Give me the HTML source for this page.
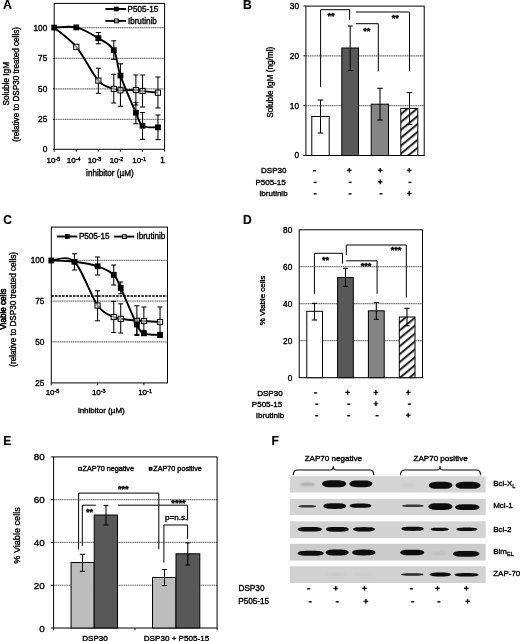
<!DOCTYPE html>
<html><head><meta charset="utf-8"><title>Figure</title>
<style>html,body{margin:0;padding:0;background:#fff;}svg{display:block;filter:grayscale(1);}text{font-family:"Liberation Sans",sans-serif;stroke:#000;stroke-width:0.36px;stroke-linejoin:round;}</style>
</head><body>
<svg width="520" height="641" viewBox="0 0 520 641" font-family="Liberation Sans, sans-serif">
<defs>
<pattern id="hatch" width="6.1" height="6.1" patternUnits="userSpaceOnUse" patternTransform="translate(400.8,108.4) rotate(-39.6)"><rect width="6.1" height="6.1" fill="#fff"/><rect y="3.4" width="6.1" height="2.1" fill="#262626"/></pattern>
<pattern id="hatch2" width="6.1" height="6.1" patternUnits="userSpaceOnUse" patternTransform="translate(399.3,317) rotate(-39.6)"><rect width="6.1" height="6.1" fill="#fff"/><rect y="3.4" width="6.1" height="2.1" fill="#262626"/></pattern>
<filter id="blur1" x="-10%" y="-50%" width="120%" height="200%"><feGaussianBlur stdDeviation="0.65 0.5"/></filter>
<filter id="blur2" x="-10%" y="-80%" width="120%" height="260%"><feGaussianBlur stdDeviation="1.2 0.8"/></filter>
</defs>
<rect width="520" height="641" fill="#fff"/>
<text x="3.1" y="8.5" font-size="12.3" text-anchor="start" font-weight="bold" fill="#000" style="stroke-width:0.15px">A</text>
<text x="243.1" y="8.5" font-size="12" text-anchor="start" font-weight="bold" fill="#000" style="stroke-width:0.15px">B</text>
<text x="3.3" y="223.6" font-size="12" text-anchor="start" font-weight="bold" fill="#000" style="stroke-width:0.15px">C</text>
<text x="243.1" y="223.5" font-size="12" text-anchor="start" font-weight="bold" fill="#000" style="stroke-width:0.15px">D</text>
<text x="3.2" y="444.8" font-size="12" text-anchor="start" font-weight="bold" fill="#000" style="stroke-width:0.15px">E</text>
<text x="271.4" y="444.8" font-size="12" text-anchor="start" font-weight="bold" fill="#000" style="stroke-width:0.15px">F</text>
<line x1="54.2" y1="119.4" x2="164.6" y2="119.4" stroke="#b4b4b4" stroke-width="1.2" />
<line x1="54.2" y1="119.4" x2="164.6" y2="119.4" stroke="#5a5a5a" stroke-width="1.0" stroke-dasharray="0.7,1.5"/>
<line x1="54.2" y1="88.8" x2="164.6" y2="88.8" stroke="#b4b4b4" stroke-width="1.2" />
<line x1="54.2" y1="88.8" x2="164.6" y2="88.8" stroke="#5a5a5a" stroke-width="1.0" stroke-dasharray="0.7,1.5"/>
<line x1="54.2" y1="58.4" x2="164.6" y2="58.4" stroke="#b4b4b4" stroke-width="1.2" />
<line x1="54.2" y1="58.4" x2="164.6" y2="58.4" stroke="#5a5a5a" stroke-width="1.0" stroke-dasharray="0.7,1.5"/>
<line x1="54.2" y1="27.7" x2="164.6" y2="27.7" stroke="#b4b4b4" stroke-width="1.2" />
<line x1="54.2" y1="27.7" x2="164.6" y2="27.7" stroke="#5a5a5a" stroke-width="1.0" stroke-dasharray="0.7,1.5"/>
<rect x="54.2" y="3.4" width="110.39999999999999" height="145.9" fill="none" stroke="#000" stroke-width="1" />
<line x1="53.0" y1="149.3" x2="54.2" y2="149.3" stroke="#000" stroke-width="0.9" />
<text x="47.3" y="152.3" font-size="8.25" text-anchor="end" font-weight="normal" fill="#000" >0</text>
<line x1="53.0" y1="119.4" x2="54.2" y2="119.4" stroke="#000" stroke-width="0.9" />
<text x="47.3" y="122.4" font-size="8.25" text-anchor="end" font-weight="normal" fill="#000" >25</text>
<line x1="53.0" y1="88.8" x2="54.2" y2="88.8" stroke="#000" stroke-width="0.9" />
<text x="47.3" y="91.8" font-size="8.25" text-anchor="end" font-weight="normal" fill="#000" >50</text>
<line x1="53.0" y1="58.4" x2="54.2" y2="58.4" stroke="#000" stroke-width="0.9" />
<text x="47.3" y="61.4" font-size="8.25" text-anchor="end" font-weight="normal" fill="#000" >75</text>
<line x1="53.0" y1="27.7" x2="54.2" y2="27.7" stroke="#000" stroke-width="0.9" />
<text x="47.3" y="30.7" font-size="8.25" text-anchor="end" font-weight="normal" fill="#000" >100</text>
<line x1="54.2" y1="149.3" x2="54.2" y2="151.8" stroke="#000" stroke-width="0.9" />
<line x1="76.28" y1="149.3" x2="76.28" y2="151.8" stroke="#000" stroke-width="0.9" />
<line x1="98.36" y1="149.3" x2="98.36" y2="151.8" stroke="#000" stroke-width="0.9" />
<line x1="120.44" y1="149.3" x2="120.44" y2="151.8" stroke="#000" stroke-width="0.9" />
<line x1="142.51999999999998" y1="149.3" x2="142.51999999999998" y2="151.8" stroke="#000" stroke-width="0.9" />
<line x1="164.6" y1="149.3" x2="164.6" y2="151.8" stroke="#000" stroke-width="0.9" />
<text x="53.4" y="163" font-size="8" text-anchor="middle">10<tspan font-size="5.44" dy="-2.3">-5</tspan></text>
<text x="73.6" y="163" font-size="8" text-anchor="middle">10<tspan font-size="5.44" dy="-2.3">-4</tspan></text>
<text x="94.5" y="163" font-size="8" text-anchor="middle">10<tspan font-size="5.44" dy="-2.3">-3</tspan></text>
<text x="116.5" y="163" font-size="8" text-anchor="middle">10<tspan font-size="5.44" dy="-2.3">-2</tspan></text>
<text x="139.2" y="163" font-size="8" text-anchor="middle">10<tspan font-size="5.44" dy="-2.3">-1</tspan></text>
<text x="162.6" y="163" font-size="8.2" text-anchor="middle" font-weight="normal" fill="#000" >1</text>
<text x="109.9" y="175.7" font-size="8.15" text-anchor="middle" font-weight="normal" fill="#000" >inhibitor (µM)</text>
<text transform="translate(8.6,83.7) rotate(-90)" font-size="8.25" text-anchor="middle" font-weight="normal" >Soluble IgM</text>
<text transform="translate(18.7,84.4) rotate(-90)" font-size="8.15" text-anchor="middle" font-weight="normal" >(relative to DSP30 treated cells)</text>
<line x1="98.36" y1="68.2" x2="98.36" y2="93.3" stroke="#000" stroke-width="1.05" />
<line x1="95.86" y1="68.2" x2="100.86" y2="68.2" stroke="#000" stroke-width="1.05" />
<line x1="95.86" y1="93.3" x2="100.86" y2="93.3" stroke="#000" stroke-width="1.05" />
<line x1="113.7932576957393" y1="74.3" x2="113.7932576957393" y2="103" stroke="#000" stroke-width="1.05" />
<line x1="111.2932576957393" y1="74.3" x2="116.2932576957393" y2="74.3" stroke="#000" stroke-width="1.05" />
<line x1="111.2932576957393" y1="103" x2="116.2932576957393" y2="103" stroke="#000" stroke-width="1.05" />
<line x1="120.44" y1="74.3" x2="120.44" y2="106.3" stroke="#000" stroke-width="1.05" />
<line x1="117.94" y1="74.3" x2="122.94" y2="74.3" stroke="#000" stroke-width="1.05" />
<line x1="117.94" y1="106.3" x2="122.94" y2="106.3" stroke="#000" stroke-width="1.05" />
<line x1="135.87325769573928" y1="75" x2="135.87325769573928" y2="105" stroke="#000" stroke-width="1.05" />
<line x1="133.37325769573928" y1="75" x2="138.37325769573928" y2="75" stroke="#000" stroke-width="1.05" />
<line x1="133.37325769573928" y1="105" x2="138.37325769573928" y2="105" stroke="#000" stroke-width="1.05" />
<line x1="142.51999999999998" y1="75" x2="142.51999999999998" y2="107" stroke="#000" stroke-width="1.05" />
<line x1="140.01999999999998" y1="75" x2="145.01999999999998" y2="75" stroke="#000" stroke-width="1.05" />
<line x1="140.01999999999998" y1="107" x2="145.01999999999998" y2="107" stroke="#000" stroke-width="1.05" />
<line x1="157.9532576957393" y1="77" x2="157.9532576957393" y2="108" stroke="#000" stroke-width="1.05" />
<line x1="155.4532576957393" y1="77" x2="160.4532576957393" y2="77" stroke="#000" stroke-width="1.05" />
<line x1="155.4532576957393" y1="108" x2="160.4532576957393" y2="108" stroke="#000" stroke-width="1.05" />
<line x1="98.36" y1="32.5" x2="98.36" y2="43.8" stroke="#000" stroke-width="1.05" />
<line x1="95.86" y1="32.5" x2="100.86" y2="32.5" stroke="#000" stroke-width="1.05" />
<line x1="95.86" y1="43.8" x2="100.86" y2="43.8" stroke="#000" stroke-width="1.05" />
<line x1="113.7932576957393" y1="40.8" x2="113.7932576957393" y2="59.4" stroke="#000" stroke-width="1.05" />
<line x1="111.2932576957393" y1="40.8" x2="116.2932576957393" y2="40.8" stroke="#000" stroke-width="1.05" />
<line x1="111.2932576957393" y1="59.4" x2="116.2932576957393" y2="59.4" stroke="#000" stroke-width="1.05" />
<line x1="120.44" y1="63.8" x2="120.44" y2="87.2" stroke="#000" stroke-width="1.05" />
<line x1="117.94" y1="63.8" x2="122.94" y2="63.8" stroke="#000" stroke-width="1.05" />
<line x1="117.94" y1="87.2" x2="122.94" y2="87.2" stroke="#000" stroke-width="1.05" />
<line x1="135.87325769573928" y1="102.5" x2="135.87325769573928" y2="123.8" stroke="#000" stroke-width="1.05" />
<line x1="133.37325769573928" y1="102.5" x2="138.37325769573928" y2="102.5" stroke="#000" stroke-width="1.05" />
<line x1="133.37325769573928" y1="123.8" x2="138.37325769573928" y2="123.8" stroke="#000" stroke-width="1.05" />
<line x1="142.51999999999998" y1="112.5" x2="142.51999999999998" y2="139.3" stroke="#000" stroke-width="1.05" />
<line x1="140.01999999999998" y1="112.5" x2="145.01999999999998" y2="112.5" stroke="#000" stroke-width="1.05" />
<line x1="140.01999999999998" y1="139.3" x2="145.01999999999998" y2="139.3" stroke="#000" stroke-width="1.05" />
<line x1="157.9532576957393" y1="115" x2="157.9532576957393" y2="139.6" stroke="#000" stroke-width="1.05" />
<line x1="155.4532576957393" y1="115" x2="160.4532576957393" y2="115" stroke="#000" stroke-width="1.05" />
<line x1="155.4532576957393" y1="139.6" x2="160.4532576957393" y2="139.6" stroke="#000" stroke-width="1.05" />
<path d="M54.20,27.60 C57.88,30.80 68.92,37.97 76.28,46.80 C83.64,55.63 92.11,73.58 98.36,80.60 C104.61,87.62 110.11,87.28 113.79,88.90 C117.47,90.52 116.76,90.12 120.44,90.30 C124.12,90.48 132.19,89.88 135.87,90.00 C139.55,90.12 138.84,90.55 142.52,91.00 C146.20,91.45 155.38,92.42 157.95,92.70" fill="none" stroke="#000" stroke-width="1.9"/>
<path d="M54.20,27.60 C57.88,27.57 68.92,25.63 76.28,27.40 C83.64,29.17 92.11,34.40 98.36,38.20 C104.61,42.00 110.11,43.97 113.79,50.20 C117.47,56.43 116.76,65.18 120.44,75.60 C124.12,86.02 132.19,104.35 135.87,112.70 C139.55,121.05 138.84,123.25 142.52,125.70 C146.20,128.15 155.38,127.12 157.95,127.40" fill="none" stroke="#000" stroke-width="1.9"/>
<rect x="73.68" y="44.199999999999996" width="5.2" height="5.2" fill="#fff" fill-opacity="0.55" stroke="#000" stroke-width="1"/>
<rect x="95.76" y="78.0" width="5.2" height="5.2" fill="#fff" fill-opacity="0.55" stroke="#000" stroke-width="1"/>
<rect x="111.1932576957393" y="86.30000000000001" width="5.2" height="5.2" fill="#fff" fill-opacity="0.55" stroke="#000" stroke-width="1"/>
<rect x="117.84" y="87.7" width="5.2" height="5.2" fill="#fff" fill-opacity="0.55" stroke="#000" stroke-width="1"/>
<rect x="133.2732576957393" y="87.4" width="5.2" height="5.2" fill="#fff" fill-opacity="0.55" stroke="#000" stroke-width="1"/>
<rect x="139.92" y="88.4" width="5.2" height="5.2" fill="#fff" fill-opacity="0.55" stroke="#000" stroke-width="1"/>
<rect x="155.3532576957393" y="90.10000000000001" width="5.2" height="5.2" fill="#fff" fill-opacity="0.55" stroke="#000" stroke-width="1"/>
<rect x="51.300000000000004" y="24.700000000000003" width="5.8" height="5.8" fill="#000"/>
<rect x="73.38" y="24.5" width="5.8" height="5.8" fill="#000"/>
<rect x="95.46" y="35.300000000000004" width="5.8" height="5.8" fill="#000"/>
<rect x="110.8932576957393" y="47.300000000000004" width="5.8" height="5.8" fill="#000"/>
<rect x="117.53999999999999" y="72.69999999999999" width="5.8" height="5.8" fill="#000"/>
<rect x="132.97325769573928" y="109.8" width="5.8" height="5.8" fill="#000"/>
<rect x="139.61999999999998" y="122.8" width="5.8" height="5.8" fill="#000"/>
<rect x="155.0532576957393" y="124.5" width="5.8" height="5.8" fill="#000"/>
<line x1="105.4" y1="9.0" x2="126.2" y2="9.0" stroke="#000" stroke-width="1.9" />
<rect x="114.10000000000001" y="6.7" width="4.6" height="4.6" fill="#000"/>
<text x="127.6" y="11.5" font-size="8.15" text-anchor="start" font-weight="normal" fill="#000" >P505-15</text>
<line x1="105.4" y1="20.9" x2="126.2" y2="20.9" stroke="#000" stroke-width="1.9" />
<rect x="114.5" y="19.0" width="3.8" height="3.8" fill="#fff" fill-opacity="0.55" stroke="#000" stroke-width="1"/>
<text x="127.9" y="23.5" font-size="8.15" text-anchor="start" font-weight="normal" fill="#000" >Ibrutinib</text>
<line x1="305.9" y1="105.66666666666666" x2="424.2" y2="105.66666666666666" stroke="#b4b4b4" stroke-width="1.2" />
<line x1="305.9" y1="105.66666666666666" x2="424.2" y2="105.66666666666666" stroke="#5a5a5a" stroke-width="1.0" stroke-dasharray="0.7,1.5"/>
<line x1="305.9" y1="55.83333333333333" x2="424.2" y2="55.83333333333333" stroke="#b4b4b4" stroke-width="1.2" />
<line x1="305.9" y1="55.83333333333333" x2="424.2" y2="55.83333333333333" stroke="#5a5a5a" stroke-width="1.0" stroke-dasharray="0.7,1.5"/>
<rect x="305.9" y="6.1" width="118.30000000000001" height="149.4" fill="none" stroke="#000" stroke-width="1" />
<line x1="303.29999999999995" y1="155.5" x2="305.9" y2="155.5" stroke="#000" stroke-width="0.9" />
<text x="299.0" y="158.45" font-size="8.3" text-anchor="end" font-weight="normal" fill="#000" >0</text>
<line x1="303.29999999999995" y1="105.66666666666666" x2="305.9" y2="105.66666666666666" stroke="#000" stroke-width="0.9" />
<text x="299.0" y="108.61666666666666" font-size="8.3" text-anchor="end" font-weight="normal" fill="#000" >10</text>
<line x1="303.29999999999995" y1="55.83333333333333" x2="305.9" y2="55.83333333333333" stroke="#000" stroke-width="0.9" />
<text x="299.0" y="58.78333333333333" font-size="8.3" text-anchor="end" font-weight="normal" fill="#000" >20</text>
<line x1="303.29999999999995" y1="6.0" x2="305.9" y2="6.0" stroke="#000" stroke-width="0.9" />
<text x="299.0" y="8.95" font-size="8.3" text-anchor="end" font-weight="normal" fill="#000" >30</text>
<text transform="translate(273.1,82.3) rotate(-90)" font-size="8.2" text-anchor="middle" font-weight="normal" >Soluble IgM (ng/ml)</text>
<rect x="311.8" y="116.5" width="17.4" height="39.0" fill="#fff" stroke="#000" stroke-width="1" />
<rect x="341.8" y="48" width="16.7" height="107.5" fill="#585858" stroke="#000" stroke-width="1" />
<rect x="371.2" y="104.2" width="17.3" height="51.3" fill="#858585" stroke="#000" stroke-width="1" />
<rect x="400.8" y="108.4" width="17.0" height="47.099999999999994" fill="url(#hatch)" stroke="#000" stroke-width="1" />
<line x1="320.5" y1="100" x2="320.5" y2="133" stroke="#000" stroke-width="1.05" />
<line x1="317.7" y1="100" x2="323.3" y2="100" stroke="#000" stroke-width="1.05" />
<line x1="317.7" y1="133" x2="323.3" y2="133" stroke="#000" stroke-width="1.05" />
<line x1="350.2" y1="26" x2="350.2" y2="70.5" stroke="#000" stroke-width="1.05" />
<line x1="347.8" y1="26" x2="352.59999999999997" y2="26" stroke="#000" stroke-width="1.05" />
<line x1="347.8" y1="70.5" x2="352.59999999999997" y2="70.5" stroke="#000" stroke-width="1.05" />
<line x1="380" y1="88.3" x2="380" y2="120" stroke="#000" stroke-width="1.05" />
<line x1="377.2" y1="88.3" x2="382.8" y2="88.3" stroke="#000" stroke-width="1.05" />
<line x1="377.2" y1="120" x2="382.8" y2="120" stroke="#000" stroke-width="1.05" />
<line x1="409.5" y1="92.5" x2="409.5" y2="124.5" stroke="#000" stroke-width="1.05" />
<line x1="406.7" y1="92.5" x2="412.3" y2="92.5" stroke="#000" stroke-width="1.05" />
<line x1="406.7" y1="124.5" x2="412.3" y2="124.5" stroke="#000" stroke-width="1.05" />
<path d="M320.6,86.8 L320.6,9.7 L349.6,9.7 L349.6,19.8" fill="none" stroke="#000" stroke-width="1"/>
<path d="M356,12.0 L356,12.0 L409.5,12.0 L409.5,71.5" fill="none" stroke="#000" stroke-width="1"/>
<path d="M356,23.7 L356,23.7 L378.3,23.7 L378.3,71.5" fill="none" stroke="#000" stroke-width="1"/>
<text x="331" y="18.9" font-size="9.2" text-anchor="middle" font-weight="bold" fill="#000" >**</text>
<text x="366.8" y="33.6" font-size="9.2" text-anchor="middle" font-weight="bold" fill="#000" >**</text>
<text x="395.3" y="21.4" font-size="9.2" text-anchor="middle" font-weight="bold" fill="#000" >**</text>
<text x="286.4" y="173.3" font-size="8" text-anchor="end" font-weight="normal" fill="#000" >DSP30</text>
<text x="285.7" y="184.6" font-size="8" text-anchor="end" font-weight="normal" fill="#000" >P505-15</text>
<text x="287.6" y="196.3" font-size="8" text-anchor="end" font-weight="normal" fill="#000" >Ibrutinib</text>
<line x1="312.8" y1="170.8" x2="315.8" y2="170.8" stroke="#000" stroke-width="1.4" />
<line x1="347.0" y1="170.3" x2="351.6" y2="170.3" stroke="#000" stroke-width="1.3" />
<line x1="349.3" y1="168.0" x2="349.3" y2="172.60000000000002" stroke="#000" stroke-width="1.3" />
<line x1="377.9" y1="170.3" x2="382.5" y2="170.3" stroke="#000" stroke-width="1.3" />
<line x1="380.2" y1="168.0" x2="380.2" y2="172.60000000000002" stroke="#000" stroke-width="1.3" />
<line x1="406.9" y1="170.3" x2="411.5" y2="170.3" stroke="#000" stroke-width="1.3" />
<line x1="409.2" y1="168.0" x2="409.2" y2="172.60000000000002" stroke="#000" stroke-width="1.3" />
<line x1="313.6" y1="182.4" x2="316.6" y2="182.4" stroke="#000" stroke-width="1.4" />
<line x1="348.6" y1="182.4" x2="351.6" y2="182.4" stroke="#000" stroke-width="1.4" />
<line x1="377.9" y1="181.9" x2="382.5" y2="181.9" stroke="#000" stroke-width="1.3" />
<line x1="380.2" y1="179.6" x2="380.2" y2="184.20000000000002" stroke="#000" stroke-width="1.3" />
<line x1="408.5" y1="182.4" x2="411.5" y2="182.4" stroke="#000" stroke-width="1.4" />
<line x1="313.6" y1="193.9" x2="316.6" y2="193.9" stroke="#000" stroke-width="1.4" />
<line x1="348.6" y1="193.9" x2="351.6" y2="193.9" stroke="#000" stroke-width="1.4" />
<line x1="379.5" y1="193.9" x2="382.5" y2="193.9" stroke="#000" stroke-width="1.4" />
<line x1="406.9" y1="193.4" x2="411.5" y2="193.4" stroke="#000" stroke-width="1.3" />
<line x1="409.2" y1="191.1" x2="409.2" y2="195.70000000000002" stroke="#000" stroke-width="1.3" />
<line x1="51.3" y1="341.8" x2="167.5" y2="341.8" stroke="#b4b4b4" stroke-width="1.2" />
<line x1="51.3" y1="341.8" x2="167.5" y2="341.8" stroke="#5a5a5a" stroke-width="1.0" stroke-dasharray="0.7,1.5"/>
<line x1="51.3" y1="301.2" x2="167.5" y2="301.2" stroke="#b4b4b4" stroke-width="1.2" />
<line x1="51.3" y1="301.2" x2="167.5" y2="301.2" stroke="#5a5a5a" stroke-width="1.0" stroke-dasharray="0.7,1.5"/>
<line x1="51.3" y1="260.4" x2="167.5" y2="260.4" stroke="#b4b4b4" stroke-width="1.2" />
<line x1="51.3" y1="260.4" x2="167.5" y2="260.4" stroke="#5a5a5a" stroke-width="1.0" stroke-dasharray="0.7,1.5"/>
<line x1="51.3" y1="296.0" x2="167.5" y2="296.0" stroke="#000" stroke-width="1.4" stroke-dasharray="2.6,1.0"/>
<rect x="51.3" y="227.1" width="116.2" height="155.79999999999998" fill="none" stroke="#000" stroke-width="1" />
<text x="44.4" y="385.84999999999997" font-size="8.25" text-anchor="end" font-weight="normal" fill="#000" >25</text>
<text x="44.4" y="344.75" font-size="8.25" text-anchor="end" font-weight="normal" fill="#000" >50</text>
<text x="44.4" y="304.15" font-size="8.25" text-anchor="end" font-weight="normal" fill="#000" >75</text>
<text x="44.4" y="263.34999999999997" font-size="8.25" text-anchor="end" font-weight="normal" fill="#000" >100</text>
<line x1="51.3" y1="382.9" x2="51.3" y2="385.4" stroke="#000" stroke-width="0.9" />
<text x="52.5" y="395.2" font-size="8" text-anchor="middle">10<tspan font-size="5.44" dy="-2.3">-5</tspan></text>
<line x1="97.58" y1="382.9" x2="97.58" y2="385.4" stroke="#000" stroke-width="0.9" />
<text x="98.78" y="395.2" font-size="8" text-anchor="middle">10<tspan font-size="5.44" dy="-2.3">-3</tspan></text>
<line x1="143.86" y1="382.9" x2="143.86" y2="385.4" stroke="#000" stroke-width="0.9" />
<text x="145.06" y="395.2" font-size="8" text-anchor="middle">10<tspan font-size="5.44" dy="-2.3">-1</tspan></text>
<text x="101.3" y="412.6" font-size="8" text-anchor="middle" font-weight="normal" fill="#000" >inhibitor (µM)</text>
<text transform="translate(6.3,309.2) rotate(-90)" font-size="8.15" text-anchor="middle" font-weight="normal" style="stroke-width:0.62px">Viable cells</text>
<text transform="translate(16.1,309.4) rotate(-90)" font-size="8.15" text-anchor="middle" font-weight="normal" >(relative to DSP30 treated cells)</text>
<line x1="97.58" y1="290.8" x2="97.58" y2="320.8" stroke="#000" stroke-width="1.05" />
<line x1="95.08" y1="290.8" x2="100.08" y2="290.8" stroke="#000" stroke-width="1.05" />
<line x1="95.08" y1="320.8" x2="100.08" y2="320.8" stroke="#000" stroke-width="1.05" />
<line x1="113.75416590033547" y1="301.3" x2="113.75416590033547" y2="332.5" stroke="#000" stroke-width="1.05" />
<line x1="111.25416590033547" y1="301.3" x2="116.25416590033547" y2="301.3" stroke="#000" stroke-width="1.05" />
<line x1="111.25416590033547" y1="332.5" x2="116.25416590033547" y2="332.5" stroke="#000" stroke-width="1.05" />
<line x1="120.72" y1="303.8" x2="120.72" y2="333" stroke="#000" stroke-width="1.05" />
<line x1="118.22" y1="303.8" x2="123.22" y2="303.8" stroke="#000" stroke-width="1.05" />
<line x1="118.22" y1="333" x2="123.22" y2="333" stroke="#000" stroke-width="1.05" />
<line x1="136.89416590033548" y1="305.8" x2="136.89416590033548" y2="334.5" stroke="#000" stroke-width="1.05" />
<line x1="134.39416590033548" y1="305.8" x2="139.39416590033548" y2="305.8" stroke="#000" stroke-width="1.05" />
<line x1="134.39416590033548" y1="334.5" x2="139.39416590033548" y2="334.5" stroke="#000" stroke-width="1.05" />
<line x1="143.86" y1="307" x2="143.86" y2="335" stroke="#000" stroke-width="1.05" />
<line x1="141.36" y1="307" x2="146.36" y2="307" stroke="#000" stroke-width="1.05" />
<line x1="141.36" y1="335" x2="146.36" y2="335" stroke="#000" stroke-width="1.05" />
<line x1="160.0341659003355" y1="307" x2="160.0341659003355" y2="337" stroke="#000" stroke-width="1.05" />
<line x1="157.5341659003355" y1="307" x2="162.5341659003355" y2="307" stroke="#000" stroke-width="1.05" />
<line x1="157.5341659003355" y1="337" x2="162.5341659003355" y2="337" stroke="#000" stroke-width="1.05" />
<line x1="74.44" y1="253.8" x2="74.44" y2="270" stroke="#000" stroke-width="1.05" />
<line x1="71.94" y1="253.8" x2="76.94" y2="253.8" stroke="#000" stroke-width="1.05" />
<line x1="71.94" y1="270" x2="76.94" y2="270" stroke="#000" stroke-width="1.05" />
<line x1="97.58" y1="257" x2="97.58" y2="275" stroke="#000" stroke-width="1.05" />
<line x1="95.08" y1="257" x2="100.08" y2="257" stroke="#000" stroke-width="1.05" />
<line x1="95.08" y1="275" x2="100.08" y2="275" stroke="#000" stroke-width="1.05" />
<line x1="113.75416590033547" y1="265" x2="113.75416590033547" y2="285" stroke="#000" stroke-width="1.05" />
<line x1="111.25416590033547" y1="265" x2="116.25416590033547" y2="265" stroke="#000" stroke-width="1.05" />
<line x1="111.25416590033547" y1="285" x2="116.25416590033547" y2="285" stroke="#000" stroke-width="1.05" />
<line x1="120.72" y1="282" x2="120.72" y2="293.8" stroke="#000" stroke-width="1.05" />
<line x1="118.22" y1="282" x2="123.22" y2="282" stroke="#000" stroke-width="1.05" />
<line x1="118.22" y1="293.8" x2="123.22" y2="293.8" stroke="#000" stroke-width="1.05" />
<line x1="136.89416590033548" y1="318.8" x2="136.89416590033548" y2="335.5" stroke="#000" stroke-width="1.05" />
<line x1="134.39416590033548" y1="318.8" x2="139.39416590033548" y2="318.8" stroke="#000" stroke-width="1.05" />
<line x1="134.39416590033548" y1="335.5" x2="139.39416590033548" y2="335.5" stroke="#000" stroke-width="1.05" />
<line x1="143.86" y1="330.5" x2="143.86" y2="335.5" stroke="#000" stroke-width="1.05" />
<line x1="141.36" y1="330.5" x2="146.36" y2="330.5" stroke="#000" stroke-width="1.05" />
<line x1="141.36" y1="335.5" x2="146.36" y2="335.5" stroke="#000" stroke-width="1.05" />
<line x1="160.0341659003355" y1="332.5" x2="160.0341659003355" y2="337.5" stroke="#000" stroke-width="1.05" />
<line x1="157.5341659003355" y1="332.5" x2="162.5341659003355" y2="332.5" stroke="#000" stroke-width="1.05" />
<line x1="157.5341659003355" y1="337.5" x2="162.5341659003355" y2="337.5" stroke="#000" stroke-width="1.05" />
<path d="M51.30,260.50 C55.16,260.72 66.73,254.30 74.44,261.80 C82.15,269.30 91.03,296.30 97.58,305.50 C104.13,314.70 109.90,314.78 113.75,317.00 C117.61,319.22 116.86,318.17 120.72,318.80 C124.58,319.43 133.04,320.43 136.89,320.80 C140.75,321.17 140.00,320.80 143.86,321.00 C147.72,321.20 157.34,321.83 160.03,322.00" fill="none" stroke="#000" stroke-width="1.9"/>
<path d="M51.30,260.50 C55.16,260.72 66.73,260.83 74.44,261.80 C82.15,262.77 91.03,264.13 97.58,266.30 C104.13,268.47 109.90,271.18 113.75,274.80 C117.61,278.42 116.86,279.72 120.72,288.00 C124.58,296.28 133.04,316.95 136.89,324.50 C140.75,332.05 140.00,331.55 143.86,333.30 C147.72,335.05 157.34,334.72 160.03,335.00" fill="none" stroke="#000" stroke-width="1.9"/>
<rect x="94.98" y="302.9" width="5.2" height="5.2" fill="#fff" fill-opacity="0.55" stroke="#000" stroke-width="1"/>
<rect x="111.15416590033547" y="314.4" width="5.2" height="5.2" fill="#fff" fill-opacity="0.55" stroke="#000" stroke-width="1"/>
<rect x="118.12" y="316.2" width="5.2" height="5.2" fill="#fff" fill-opacity="0.55" stroke="#000" stroke-width="1"/>
<rect x="134.29416590033549" y="318.2" width="5.2" height="5.2" fill="#fff" fill-opacity="0.55" stroke="#000" stroke-width="1"/>
<rect x="141.26000000000002" y="318.4" width="5.2" height="5.2" fill="#fff" fill-opacity="0.55" stroke="#000" stroke-width="1"/>
<rect x="157.4341659003355" y="319.4" width="5.2" height="5.2" fill="#fff" fill-opacity="0.55" stroke="#000" stroke-width="1"/>
<rect x="48.4" y="257.6" width="5.8" height="5.8" fill="#000"/>
<rect x="71.53999999999999" y="258.90000000000003" width="5.8" height="5.8" fill="#000"/>
<rect x="94.67999999999999" y="263.40000000000003" width="5.8" height="5.8" fill="#000"/>
<rect x="110.85416590033546" y="271.90000000000003" width="5.8" height="5.8" fill="#000"/>
<rect x="117.82" y="285.1" width="5.8" height="5.8" fill="#000"/>
<rect x="133.99416590033547" y="321.6" width="5.8" height="5.8" fill="#000"/>
<rect x="140.96" y="330.40000000000003" width="5.8" height="5.8" fill="#000"/>
<rect x="157.1341659003355" y="332.1" width="5.8" height="5.8" fill="#000"/>
<line x1="56.8" y1="236.5" x2="77.3" y2="236.5" stroke="#000" stroke-width="1.9" />
<rect x="64.89999999999999" y="234.1" width="4.8" height="4.8" fill="#000"/>
<text x="78.9" y="239.2" font-size="8.15" text-anchor="start" font-weight="normal" fill="#000" >P505-15</text>
<line x1="114.0" y1="236.6" x2="134.3" y2="236.6" stroke="#000" stroke-width="1.9" />
<rect x="122.5" y="234.7" width="3.8" height="3.8" fill="#fff" fill-opacity="0.55" stroke="#000" stroke-width="1"/>
<text x="136.4" y="239.2" font-size="8.15" text-anchor="start" font-weight="normal" fill="#000" >Ibrutinib</text>
<line x1="299.2" y1="340.675" x2="422.5" y2="340.675" stroke="#b4b4b4" stroke-width="1.2" />
<line x1="299.2" y1="340.675" x2="422.5" y2="340.675" stroke="#5a5a5a" stroke-width="1.0" stroke-dasharray="0.7,1.5"/>
<line x1="299.2" y1="303.65" x2="422.5" y2="303.65" stroke="#b4b4b4" stroke-width="1.2" />
<line x1="299.2" y1="303.65" x2="422.5" y2="303.65" stroke="#5a5a5a" stroke-width="1.0" stroke-dasharray="0.7,1.5"/>
<line x1="299.2" y1="266.625" x2="422.5" y2="266.625" stroke="#b4b4b4" stroke-width="1.2" />
<line x1="299.2" y1="266.625" x2="422.5" y2="266.625" stroke="#5a5a5a" stroke-width="1.0" stroke-dasharray="0.7,1.5"/>
<rect x="299.2" y="229.8" width="123.30000000000001" height="147.89999999999998" fill="none" stroke="#000" stroke-width="1" />
<text x="292.2" y="380.59999999999997" font-size="8.2" text-anchor="end" font-weight="normal" fill="#000" >0</text>
<text x="292.2" y="343.575" font-size="8.2" text-anchor="end" font-weight="normal" fill="#000" >20</text>
<text x="292.2" y="306.54999999999995" font-size="8.2" text-anchor="end" font-weight="normal" fill="#000" >40</text>
<text x="292.2" y="269.525" font-size="8.2" text-anchor="end" font-weight="normal" fill="#000" >60</text>
<text x="292.2" y="232.5" font-size="8.2" text-anchor="end" font-weight="normal" fill="#000" >80</text>
<text transform="translate(265.2,300.5) rotate(-90)" font-size="8" text-anchor="middle" font-weight="normal" >% Viable cells</text>
<rect x="306.8" y="311.3" width="15.7" height="66.39999999999998" fill="#fff" stroke="#000" stroke-width="1" />
<rect x="337.6" y="277.5" width="15.7" height="100.19999999999999" fill="#585858" stroke="#000" stroke-width="1" />
<rect x="368.4" y="310.8" width="15.8" height="66.89999999999998" fill="#858585" stroke="#000" stroke-width="1" />
<rect x="399.3" y="317" width="15.7" height="60.69999999999999" fill="url(#hatch2)" stroke="#000" stroke-width="1" />
<line x1="314.5" y1="303.3" x2="314.5" y2="320" stroke="#000" stroke-width="1.05" />
<line x1="311.9" y1="303.3" x2="317.1" y2="303.3" stroke="#000" stroke-width="1.05" />
<line x1="311.9" y1="320" x2="317.1" y2="320" stroke="#000" stroke-width="1.05" />
<line x1="345.5" y1="268.3" x2="345.5" y2="286.3" stroke="#000" stroke-width="1.05" />
<line x1="342.9" y1="268.3" x2="348.1" y2="268.3" stroke="#000" stroke-width="1.05" />
<line x1="342.9" y1="286.3" x2="348.1" y2="286.3" stroke="#000" stroke-width="1.05" />
<line x1="376.3" y1="302.5" x2="376.3" y2="319.3" stroke="#000" stroke-width="1.05" />
<line x1="373.7" y1="302.5" x2="378.90000000000003" y2="302.5" stroke="#000" stroke-width="1.05" />
<line x1="373.7" y1="319.3" x2="378.90000000000003" y2="319.3" stroke="#000" stroke-width="1.05" />
<line x1="407" y1="308.3" x2="407" y2="325.8" stroke="#000" stroke-width="1.05" />
<line x1="404.4" y1="308.3" x2="409.6" y2="308.3" stroke="#000" stroke-width="1.05" />
<line x1="404.4" y1="325.8" x2="409.6" y2="325.8" stroke="#000" stroke-width="1.05" />
<path d="M314.4,293.8 L314.4,253.3 L342.5,253.3 L342.5,263.8" fill="none" stroke="#000" stroke-width="1"/>
<path d="M346.3,255 L346.3,245 L406.3,245 L406.3,297.5" fill="none" stroke="#000" stroke-width="1"/>
<path d="M346.3,260.8 L346.3,260.8 L377.1,260.8 L377.1,293.8" fill="none" stroke="#000" stroke-width="1"/>
<text x="325.6" y="263.4" font-size="9.2" text-anchor="middle" font-weight="bold" fill="#000" >**</text>
<text x="396" y="253.3" font-size="9.2" text-anchor="middle" font-weight="bold" fill="#000" >***</text>
<text x="366" y="268.8" font-size="9.2" text-anchor="middle" font-weight="bold" fill="#000" >***</text>
<text x="282.6" y="395.8" font-size="8" text-anchor="end" font-weight="normal" fill="#000" >DSP30</text>
<text x="282.1" y="406.9" font-size="8" text-anchor="end" font-weight="normal" fill="#000" >P505-15</text>
<text x="284.3" y="418.1" font-size="8" text-anchor="end" font-weight="normal" fill="#000" >Ibrutinib</text>
<line x1="314.1" y1="392.9" x2="317.1" y2="392.9" stroke="#000" stroke-width="1.4" />
<line x1="345.3" y1="392.4" x2="349.90000000000003" y2="392.4" stroke="#000" stroke-width="1.3" />
<line x1="347.6" y1="390.09999999999997" x2="347.6" y2="394.7" stroke="#000" stroke-width="1.3" />
<line x1="373.59999999999997" y1="392.4" x2="378.2" y2="392.4" stroke="#000" stroke-width="1.3" />
<line x1="375.9" y1="390.09999999999997" x2="375.9" y2="394.7" stroke="#000" stroke-width="1.3" />
<line x1="405.9" y1="392.4" x2="410.5" y2="392.4" stroke="#000" stroke-width="1.3" />
<line x1="408.2" y1="390.09999999999997" x2="408.2" y2="394.7" stroke="#000" stroke-width="1.3" />
<line x1="315.3" y1="404.1" x2="318.3" y2="404.1" stroke="#000" stroke-width="1.4" />
<line x1="347.3" y1="404.1" x2="350.3" y2="404.1" stroke="#000" stroke-width="1.4" />
<line x1="373.59999999999997" y1="403.6" x2="378.2" y2="403.6" stroke="#000" stroke-width="1.3" />
<line x1="375.9" y1="401.3" x2="375.9" y2="405.90000000000003" stroke="#000" stroke-width="1.3" />
<line x1="407.9" y1="404.1" x2="410.9" y2="404.1" stroke="#000" stroke-width="1.4" />
<line x1="315.3" y1="415.7" x2="318.3" y2="415.7" stroke="#000" stroke-width="1.4" />
<line x1="347.3" y1="415.7" x2="350.3" y2="415.7" stroke="#000" stroke-width="1.4" />
<line x1="375.59999999999997" y1="415.7" x2="378.59999999999997" y2="415.7" stroke="#000" stroke-width="1.4" />
<line x1="405.9" y1="415.2" x2="410.5" y2="415.2" stroke="#000" stroke-width="1.3" />
<line x1="408.2" y1="412.9" x2="408.2" y2="417.5" stroke="#000" stroke-width="1.3" />
<line x1="53.6" y1="585.225" x2="217.1" y2="585.225" stroke="#b4b4b4" stroke-width="1.2" />
<line x1="53.6" y1="585.225" x2="217.1" y2="585.225" stroke="#5a5a5a" stroke-width="1.0" stroke-dasharray="0.7,1.5"/>
<line x1="53.6" y1="542.45" x2="217.1" y2="542.45" stroke="#b4b4b4" stroke-width="1.2" />
<line x1="53.6" y1="542.45" x2="217.1" y2="542.45" stroke="#5a5a5a" stroke-width="1.0" stroke-dasharray="0.7,1.5"/>
<line x1="53.6" y1="499.67499999999995" x2="217.1" y2="499.67499999999995" stroke="#b4b4b4" stroke-width="1.2" />
<line x1="53.6" y1="499.67499999999995" x2="217.1" y2="499.67499999999995" stroke="#5a5a5a" stroke-width="1.0" stroke-dasharray="0.7,1.5"/>
<rect x="53.6" y="456.9" width="163.5" height="171.10000000000002" fill="none" stroke="#000" stroke-width="1" />
<line x1="51.0" y1="628.0" x2="53.6" y2="628.0" stroke="#000" stroke-width="0.9" />
<text x="44.8" y="631.55" font-size="9.9" text-anchor="end" font-weight="normal" fill="#000" >0</text>
<line x1="51.0" y1="585.225" x2="53.6" y2="585.225" stroke="#000" stroke-width="0.9" />
<text x="44.8" y="588.775" font-size="9.9" text-anchor="end" font-weight="normal" fill="#000" >20</text>
<line x1="51.0" y1="542.45" x2="53.6" y2="542.45" stroke="#000" stroke-width="0.9" />
<text x="44.8" y="546.0" font-size="9.9" text-anchor="end" font-weight="normal" fill="#000" >40</text>
<line x1="51.0" y1="499.67499999999995" x2="53.6" y2="499.67499999999995" stroke="#000" stroke-width="0.9" />
<text x="44.8" y="503.22499999999997" font-size="9.9" text-anchor="end" font-weight="normal" fill="#000" >60</text>
<line x1="51.0" y1="456.9" x2="53.6" y2="456.9" stroke="#000" stroke-width="0.9" />
<text x="44.8" y="460.45" font-size="9.9" text-anchor="end" font-weight="normal" fill="#000" >80</text>
<line x1="53.6" y1="628.0" x2="53.6" y2="630.4" stroke="#000" stroke-width="0.9" />
<line x1="135" y1="628.0" x2="135" y2="630.4" stroke="#000" stroke-width="0.9" />
<line x1="217.1" y1="628.0" x2="217.1" y2="630.4" stroke="#000" stroke-width="0.9" />
<text transform="translate(19.8,535.5) rotate(-90)" font-size="9.1" text-anchor="middle" font-weight="normal" >% Viable cells</text>
<rect x="71.1" y="562.5" width="23.1" height="65.5" fill="#bdbdbd" stroke="#000" stroke-width="1" />
<rect x="94.2" y="515" width="23.3" height="113.0" fill="#585858" stroke="#000" stroke-width="1" />
<rect x="152.5" y="577.5" width="23.5" height="50.5" fill="#bdbdbd" stroke="#000" stroke-width="1" />
<rect x="176" y="553.8" width="23.8" height="74.20000000000005" fill="#585858" stroke="#000" stroke-width="1" />
<line x1="82.5" y1="554.3" x2="82.5" y2="571.3" stroke="#000" stroke-width="1.05" />
<line x1="79.9" y1="554.3" x2="85.1" y2="554.3" stroke="#000" stroke-width="1.05" />
<line x1="79.9" y1="571.3" x2="85.1" y2="571.3" stroke="#000" stroke-width="1.05" />
<line x1="106" y1="505.4" x2="106" y2="525" stroke="#000" stroke-width="1.05" />
<line x1="103.6" y1="505.4" x2="108.4" y2="505.4" stroke="#000" stroke-width="1.05" />
<line x1="103.6" y1="525" x2="108.4" y2="525" stroke="#000" stroke-width="1.05" />
<line x1="164.5" y1="569.5" x2="164.5" y2="585.5" stroke="#000" stroke-width="1.05" />
<line x1="161.9" y1="569.5" x2="167.1" y2="569.5" stroke="#000" stroke-width="1.05" />
<line x1="161.9" y1="585.5" x2="167.1" y2="585.5" stroke="#000" stroke-width="1.05" />
<line x1="187.8" y1="542.9" x2="187.8" y2="565" stroke="#000" stroke-width="1.05" />
<line x1="185.4" y1="542.9" x2="190.20000000000002" y2="542.9" stroke="#000" stroke-width="1.05" />
<line x1="185.4" y1="565" x2="190.20000000000002" y2="565" stroke="#000" stroke-width="1.05" />
<path d="M78.6,549.5 L78.6,493.1 L158.8,493.1 L158.8,549.3" fill="none" stroke="#000" stroke-width="1"/>
<path d="M82.3,545.8 L82.3,505.2 L95.9,505.2" fill="none" stroke="#000" stroke-width="1"/>
<path d="M117.9,505.2 L187.6,505.2 L187.6,520.4" fill="none" stroke="#000" stroke-width="1"/>
<path d="M163.9,562.5 L163.9,525.0 L187.6,525.0 L187.6,539.2" fill="none" stroke="#000" stroke-width="1"/>
<text x="123.3" y="491.6" font-size="9.2" text-anchor="middle" font-weight="bold" fill="#000" >***</text>
<text x="89.6" y="514.5" font-size="9.2" text-anchor="middle" font-weight="bold" fill="#000" >**</text>
<text x="178.5" y="505.8" font-size="9.2" text-anchor="middle" font-weight="bold" fill="#000" >****</text>
<text x="176.2" y="520.4" font-size="8.1" text-anchor="middle" font-weight="normal" fill="#000" >p=n.s.</text>
<rect x="78.6" y="467.4" width="2.8" height="2.8" fill="#e0e0e0" stroke="#000" stroke-width="1" />
<text x="82.6" y="470.9" font-size="7.22" text-anchor="start" font-weight="normal" fill="#000" >ZAP70 negative</text>
<rect x="149.2" y="467.4" width="2.8" height="2.8" fill="#505050" stroke="#000" stroke-width="1" />
<text x="153.3" y="470.9" font-size="7.22" text-anchor="start" font-weight="normal" fill="#000" >ZAP70 positive</text>
<text x="95" y="640.5" font-size="8.1" text-anchor="middle" font-weight="normal" fill="#000" >DSP30</text>
<text x="176.5" y="640.5" font-size="8.1" text-anchor="middle" font-weight="normal" fill="#000" >DSP30 + P505-15</text>
<text x="333.3" y="460.6" font-size="8.05" text-anchor="middle" font-weight="normal" fill="#000" >ZAP70 negative</text>
<text x="440.6" y="460.6" font-size="8.05" text-anchor="middle" font-weight="normal" fill="#000" >ZAP70 positive</text>
<path d="M293.3,475 Q293.3,470 297.3,470 L330.3,470 Q333.3,470 333.3,466.2 Q333.3,470 336.3,470 L369.8,470 Q373.8,470 373.8,475" fill="none" stroke="#000" stroke-width="1.15"/>
<path d="M400.5,475 Q400.5,470 404.5,470 L437,470 Q440,470 440,466.2 Q440,470 443,470 L476.5,470 Q480.5,470 480.5,475" fill="none" stroke="#000" stroke-width="1.15"/>
<rect x="290" y="476.3" width="195.6" height="16.19999999999999" fill="#d4d4d4" stroke="none" stroke-width="0" />
<rect x="290" y="498.8" width="195.6" height="16.19999999999999" fill="#d3d3d3" stroke="none" stroke-width="0" />
<rect x="290" y="521.3" width="195.6" height="16.700000000000045" fill="#d3d3d3" stroke="none" stroke-width="0" />
<rect x="290" y="543.8" width="195.6" height="16.700000000000045" fill="#cbcbcb" stroke="none" stroke-width="0" />
<rect x="290" y="566.3" width="195.6" height="16.700000000000045" fill="#d1d1d1" stroke="none" stroke-width="0" />
<polygon points="314.90,484.30 314.85,484.53 314.70,484.75 314.44,484.96 314.08,485.15 313.60,485.33 313.01,485.47 312.27,485.59 311.35,485.68 310.14,485.73 307.50,485.75 304.86,485.73 303.65,485.68 302.73,485.59 301.99,485.47 301.40,485.33 300.92,485.15 300.56,484.96 300.30,484.75 300.15,484.53 300.10,484.30 300.15,484.07 300.30,483.85 300.56,483.64 300.92,483.45 301.40,483.27 301.99,483.13 302.73,483.01 303.65,482.92 304.86,482.87 307.50,482.85 310.14,482.87 311.35,482.92 312.27,483.01 313.01,483.13 313.60,483.27 314.08,483.45 314.44,483.64 314.70,483.85 314.85,484.07" fill="#8a8a8a" opacity="0.6" filter="url(#blur2)"/>
<polygon points="346.20,483.80 346.12,484.35 345.87,484.88 345.45,485.39 344.86,485.86 344.09,486.27 343.12,486.63 341.92,486.92 340.43,487.13 338.45,487.26 334.15,487.30 329.85,487.26 327.87,487.13 326.38,486.92 325.18,486.63 324.21,486.27 323.44,485.86 322.85,485.39 322.43,484.88 322.18,484.35 322.10,483.80 322.18,483.25 322.43,482.72 322.85,482.21 323.44,481.74 324.21,481.33 325.18,480.97 326.38,480.68 327.87,480.47 329.85,480.34 334.15,480.30 338.45,480.34 340.43,480.47 341.92,480.68 343.12,480.97 344.09,481.33 344.86,481.74 345.45,482.21 345.87,482.72 346.12,483.25" fill="#0a0a0a" opacity="1" filter="url(#blur1)"/>
<polygon points="372.40,483.80 372.32,484.33 372.08,484.85 371.69,485.34 371.12,485.80 370.39,486.20 369.46,486.55 368.32,486.83 366.89,487.03 365.00,487.16 360.90,487.20 356.80,487.16 354.91,487.03 353.48,486.83 352.34,486.55 351.41,486.20 350.68,485.80 350.11,485.34 349.72,484.85 349.48,484.33 349.40,483.80 349.48,483.27 349.72,482.75 350.11,482.26 350.68,481.80 351.41,481.40 352.34,481.05 353.48,480.77 354.91,480.57 356.80,480.44 360.90,480.40 365.00,480.44 366.89,480.57 368.32,480.77 369.46,481.05 370.39,481.40 371.12,481.80 371.69,482.26 372.08,482.75 372.32,483.27" fill="#0a0a0a" opacity="1" filter="url(#blur1)"/>
<polygon points="414.90,485.00 414.85,485.19 414.71,485.37 414.47,485.54 414.13,485.71 413.69,485.85 413.14,485.97 412.45,486.07 411.59,486.14 410.46,486.19 408.00,486.20 405.54,486.19 404.41,486.14 403.55,486.07 402.86,485.97 402.31,485.85 401.87,485.71 401.53,485.54 401.29,485.37 401.15,485.19 401.10,485.00 401.15,484.81 401.29,484.63 401.53,484.46 401.87,484.29 402.31,484.15 402.86,484.03 403.55,483.93 404.41,483.86 405.54,483.81 408.00,483.80 410.46,483.81 411.59,483.86 412.45,483.93 413.14,484.03 413.69,484.15 414.13,484.29 414.47,484.46 414.71,484.63 414.85,484.81" fill="#9a9a9a" opacity="0.2" filter="url(#blur2)"/>
<polygon points="452.40,485.30 452.32,485.85 452.08,486.38 451.67,486.89 451.09,487.36 450.34,487.77 449.40,488.13 448.23,488.42 446.77,488.63 444.84,488.76 440.65,488.80 436.46,488.76 434.53,488.63 433.07,488.42 431.90,488.13 430.96,487.77 430.21,487.36 429.63,486.89 429.22,486.38 428.98,485.85 428.90,485.30 428.98,484.75 429.22,484.22 429.63,483.71 430.21,483.24 430.96,482.83 431.90,482.47 433.07,482.18 434.53,481.97 436.46,481.84 440.65,481.80 444.84,481.84 446.77,481.97 448.23,482.18 449.40,482.47 450.34,482.83 451.09,483.24 451.67,483.71 452.08,484.22 452.32,484.75" fill="#0a0a0a" opacity="1" filter="url(#blur1)"/>
<polygon points="480.40,485.30 480.31,485.85 480.06,486.38 479.63,486.89 479.02,487.36 478.23,487.77 477.23,488.13 476.00,488.42 474.46,488.63 472.42,488.76 468.00,488.80 463.58,488.76 461.54,488.63 460.00,488.42 458.77,488.13 457.77,487.77 456.98,487.36 456.37,486.89 455.94,486.38 455.69,485.85 455.60,485.30 455.69,484.75 455.94,484.22 456.37,483.71 456.98,483.24 457.77,482.83 458.77,482.47 460.00,482.18 461.54,481.97 463.58,481.84 468.00,481.80 472.42,481.84 474.46,481.97 476.00,482.18 477.23,482.47 478.23,482.83 479.02,483.24 479.63,483.71 480.06,484.22 480.31,484.75" fill="#0a0a0a" opacity="1" filter="url(#blur1)"/>
<polygon points="316.20,506.30 316.14,506.50 315.96,506.70 315.65,506.89 315.21,507.06 314.64,507.22 313.92,507.35 313.04,507.46 311.93,507.54 310.48,507.58 307.30,507.60 304.12,507.58 302.67,507.54 301.56,507.46 300.68,507.35 299.96,507.22 299.39,507.06 298.95,506.89 298.64,506.70 298.46,506.50 298.40,506.30 298.46,506.10 298.64,505.90 298.95,505.71 299.39,505.54 299.96,505.38 300.68,505.25 301.56,505.14 302.67,505.06 304.12,505.02 307.30,505.00 310.48,505.02 311.93,505.06 313.04,505.14 313.92,505.25 314.64,505.38 315.21,505.54 315.65,505.71 315.96,505.90 316.14,506.10" fill="#3a3a3a" opacity="1" filter="url(#blur1)"/>
<polygon points="346.10,506.10 346.02,506.54 345.79,506.97 345.40,507.37 344.84,507.75 344.11,508.08 343.20,508.37 342.07,508.59 340.66,508.76 338.80,508.87 334.75,508.90 330.70,508.87 328.84,508.76 327.43,508.59 326.30,508.37 325.39,508.08 324.66,507.75 324.10,507.37 323.71,506.97 323.48,506.54 323.40,506.10 323.48,505.66 323.71,505.23 324.10,504.83 324.66,504.45 325.39,504.12 326.30,503.83 327.43,503.61 328.84,503.44 330.70,503.33 334.75,503.30 338.80,503.33 340.66,503.44 342.07,503.61 343.20,503.83 344.11,504.12 344.84,504.45 345.40,504.83 345.79,505.23 346.02,505.66" fill="#0a0a0a" opacity="1" filter="url(#blur1)"/>
<polygon points="371.40,505.70 371.33,506.04 371.10,506.36 370.73,506.68 370.19,506.96 369.50,507.22 368.63,507.44 367.55,507.62 366.20,507.74 364.42,507.82 360.55,507.85 356.68,507.82 354.90,507.74 353.55,507.62 352.47,507.44 351.60,507.22 350.91,506.96 350.37,506.68 350.00,506.36 349.77,506.04 349.70,505.70 349.77,505.36 350.00,505.04 350.37,504.72 350.91,504.44 351.60,504.18 352.47,503.96 353.55,503.78 354.90,503.66 356.68,503.58 360.55,503.55 364.42,503.58 366.20,503.66 367.55,503.78 368.63,503.96 369.50,504.18 370.19,504.44 370.73,504.72 371.10,505.04 371.33,505.36" fill="#0a0a0a" opacity="1" filter="url(#blur1)"/>
<polygon points="423.70,505.80 423.63,506.00 423.40,506.20 423.03,506.39 422.50,506.56 421.81,506.72 420.94,506.85 419.86,506.96 418.52,507.04 416.75,507.08 412.90,507.10 409.05,507.08 407.28,507.04 405.94,506.96 404.86,506.85 403.99,506.72 403.30,506.56 402.77,506.39 402.40,506.20 402.17,506.00 402.10,505.80 402.17,505.60 402.40,505.40 402.77,505.21 403.30,505.04 403.99,504.88 404.86,504.75 405.94,504.64 407.28,504.56 409.05,504.52 412.90,504.50 416.75,504.52 418.52,504.56 419.86,504.64 420.94,504.75 421.81,504.88 422.50,505.04 423.03,505.21 423.40,505.40 423.63,505.60" fill="#3a3a3a" opacity="1" filter="url(#blur1)"/>
<polygon points="452.40,506.60 452.32,507.13 452.07,507.65 451.65,508.14 451.07,508.60 450.30,509.00 449.33,509.35 448.14,509.63 446.65,509.83 444.68,509.96 440.40,510.00 436.12,509.96 434.15,509.83 432.66,509.63 431.47,509.35 430.50,509.00 429.73,508.60 429.15,508.14 428.73,507.65 428.48,507.13 428.40,506.60 428.48,506.07 428.73,505.55 429.15,505.06 429.73,504.60 430.50,504.20 431.47,503.85 432.66,503.57 434.15,503.37 436.12,503.24 440.40,503.20 444.68,503.24 446.65,503.37 448.14,503.57 449.33,503.85 450.30,504.20 451.07,504.60 451.65,505.06 452.07,505.55 452.32,506.07" fill="#0a0a0a" opacity="1" filter="url(#blur1)"/>
<polygon points="479.40,507.20 479.32,507.65 479.07,508.10 478.65,508.52 478.05,508.90 477.27,509.25 476.29,509.55 475.09,509.78 473.58,509.96 471.58,510.06 467.25,510.10 462.92,510.06 460.92,509.96 459.41,509.78 458.21,509.55 457.23,509.25 456.45,508.90 455.85,508.52 455.43,508.10 455.18,507.65 455.10,507.20 455.18,506.75 455.43,506.30 455.85,505.88 456.45,505.50 457.23,505.15 458.21,504.85 459.41,504.62 460.92,504.44 462.92,504.34 467.25,504.30 471.58,504.34 473.58,504.44 475.09,504.62 476.29,504.85 477.27,505.15 478.05,505.50 478.65,505.88 479.07,506.30 479.32,506.75" fill="#0a0a0a" opacity="1" filter="url(#blur1)"/>
<polygon points="321.90,529.30 321.82,529.66 321.57,530.01 321.15,530.34 320.55,530.65 319.77,530.93 318.79,531.16 317.59,531.35 316.08,531.49 314.08,531.57 309.75,531.60 305.42,531.57 303.42,531.49 301.91,531.35 300.71,531.16 299.73,530.93 298.95,530.65 298.35,530.34 297.93,530.01 297.68,529.66 297.60,529.30 297.68,528.94 297.93,528.59 298.35,528.26 298.95,527.95 299.73,527.67 300.71,527.44 301.91,527.25 303.42,527.11 305.42,527.03 309.75,527.00 314.08,527.03 316.08,527.11 317.59,527.25 318.79,527.44 319.77,527.67 320.55,527.95 321.15,528.26 321.57,528.59 321.82,528.94" fill="#0a0a0a" opacity="1" filter="url(#blur1)"/>
<polygon points="348.70,529.30 348.62,529.68 348.39,530.04 347.99,530.39 347.43,530.71 346.70,531.00 345.79,531.24 344.65,531.44 343.24,531.58 341.37,531.67 337.30,531.70 333.23,531.67 331.36,531.58 329.95,531.44 328.81,531.24 327.90,531.00 327.17,530.71 326.61,530.39 326.21,530.04 325.98,529.68 325.90,529.30 325.98,528.92 326.21,528.56 326.61,528.21 327.17,527.89 327.90,527.60 328.81,527.36 329.95,527.16 331.36,527.02 333.23,526.93 337.30,526.90 341.37,526.93 343.24,527.02 344.65,527.16 345.79,527.36 346.70,527.60 347.43,527.89 347.99,528.21 348.39,528.56 348.62,528.92" fill="#0a0a0a" opacity="1" filter="url(#blur1)"/>
<polygon points="374.90,529.30 374.83,529.64 374.60,529.98 374.22,530.30 373.69,530.59 372.99,530.86 372.11,531.08 371.03,531.26 369.68,531.39 367.89,531.47 364.00,531.50 360.11,531.47 358.32,531.39 356.97,531.26 355.89,531.08 355.01,530.86 354.31,530.59 353.78,530.30 353.40,529.98 353.17,529.64 353.10,529.30 353.17,528.96 353.40,528.62 353.78,528.30 354.31,528.01 355.01,527.74 355.89,527.52 356.97,527.34 358.32,527.21 360.11,527.13 364.00,527.10 367.89,527.13 369.68,527.21 371.03,527.34 372.11,527.52 372.99,527.74 373.69,528.01 374.22,528.30 374.60,528.62 374.83,528.96" fill="#0a0a0a" opacity="1" filter="url(#blur1)"/>
<polygon points="423.70,528.80 423.62,529.13 423.39,529.45 423.01,529.75 422.46,530.03 421.75,530.28 420.85,530.50 419.74,530.67 418.36,530.80 416.53,530.87 412.55,530.90 408.57,530.87 406.74,530.80 405.36,530.67 404.25,530.50 403.35,530.28 402.64,530.03 402.09,529.75 401.71,529.45 401.48,529.13 401.40,528.80 401.48,528.47 401.71,528.15 402.09,527.85 402.64,527.57 403.35,527.32 404.25,527.10 405.36,526.93 406.74,526.80 408.57,526.73 412.55,526.70 416.53,526.73 418.36,526.80 419.74,526.93 420.85,527.10 421.75,527.32 422.46,527.57 423.01,527.85 423.39,528.15 423.62,528.47" fill="#0a0a0a" opacity="1" filter="url(#blur1)"/>
<polygon points="448.70,529.30 448.64,529.55 448.45,529.79 448.14,530.03 447.69,530.24 447.11,530.43 446.39,530.59 445.49,530.73 444.36,530.82 442.88,530.88 439.65,530.90 436.42,530.88 434.94,530.82 433.81,530.73 432.91,530.59 432.19,530.43 431.61,530.24 431.16,530.03 430.85,529.79 430.66,529.55 430.60,529.30 430.66,529.05 430.85,528.81 431.16,528.57 431.61,528.36 432.19,528.17 432.91,528.01 433.81,527.87 434.94,527.78 436.42,527.72 439.65,527.70 442.88,527.72 444.36,527.78 445.49,527.87 446.39,528.01 447.11,528.17 447.69,528.36 448.14,528.57 448.45,528.81 448.64,529.05" fill="#0a0a0a" opacity="1" filter="url(#blur1)"/>
<polygon points="477.40,529.30 477.33,529.57 477.11,529.83 476.75,530.07 476.23,530.30 475.56,530.50 474.72,530.68 473.67,530.81 472.37,530.92 470.65,530.98 466.90,531.00 463.15,530.98 461.43,530.92 460.13,530.81 459.08,530.68 458.24,530.50 457.57,530.30 457.05,530.07 456.69,529.83 456.47,529.57 456.40,529.30 456.47,529.03 456.69,528.77 457.05,528.53 457.57,528.30 458.24,528.10 459.08,527.92 460.13,527.79 461.43,527.68 463.15,527.62 466.90,527.60 470.65,527.62 472.37,527.68 473.67,527.79 474.72,527.92 475.56,528.10 476.23,528.30 476.75,528.53 477.11,528.77 477.33,529.03" fill="#0a0a0a" opacity="1" filter="url(#blur1)"/>
<polygon points="323.70,553.30 323.61,553.69 323.34,554.07 322.89,554.43 322.25,554.77 321.41,555.07 320.36,555.32 319.07,555.53 317.45,555.68 315.31,555.77 310.65,555.80 305.99,555.77 303.85,555.68 302.23,555.53 300.94,555.32 299.89,555.07 299.05,554.77 298.41,554.43 297.96,554.07 297.69,553.69 297.60,553.30 297.69,552.91 297.96,552.53 298.41,552.17 299.05,551.83 299.89,551.53 300.94,551.28 302.23,551.07 303.85,550.92 305.99,550.83 310.65,550.80 315.31,550.83 317.45,550.92 319.07,551.07 320.36,551.28 321.41,551.53 322.25,551.83 322.89,552.17 323.34,552.53 323.61,552.91" fill="#0a0a0a" opacity="1" filter="url(#blur1)"/>
<polygon points="348.70,552.50 348.62,552.97 348.38,553.43 347.98,553.86 347.42,554.26 346.68,554.62 345.75,554.93 344.60,555.17 343.17,555.35 341.27,555.46 337.15,555.50 333.03,555.46 331.13,555.35 329.70,555.17 328.55,554.93 327.62,554.62 326.88,554.26 326.32,553.86 325.92,553.43 325.68,552.97 325.60,552.50 325.68,552.03 325.92,551.57 326.32,551.14 326.88,550.74 327.62,550.38 328.55,550.07 329.70,549.83 331.13,549.65 333.03,549.54 337.15,549.50 341.27,549.54 343.17,549.65 344.60,549.83 345.75,550.07 346.68,550.38 347.42,550.74 347.98,551.14 348.38,551.57 348.62,552.03" fill="#0a0a0a" opacity="1" filter="url(#blur1)"/>
<polygon points="375.40,552.50 375.32,552.95 375.08,553.40 374.68,553.82 374.11,554.20 373.36,554.55 372.42,554.85 371.26,555.08 369.82,555.26 367.91,555.36 363.75,555.40 359.59,555.36 357.68,555.26 356.24,555.08 355.08,554.85 354.14,554.55 353.39,554.20 352.82,553.82 352.42,553.40 352.18,552.95 352.10,552.50 352.18,552.05 352.42,551.60 352.82,551.18 353.39,550.80 354.14,550.45 355.08,550.15 356.24,549.92 357.68,549.74 359.59,549.64 363.75,549.60 367.91,549.64 369.82,549.74 371.26,549.92 372.42,550.15 373.36,550.45 374.11,550.80 374.68,551.18 375.08,551.60 375.32,552.05" fill="#0a0a0a" opacity="1" filter="url(#blur1)"/>
<polygon points="424.20,552.50 424.12,552.94 423.87,553.37 423.45,553.77 422.86,554.15 422.09,554.48 421.12,554.77 419.92,554.99 418.43,555.16 416.45,555.27 412.15,555.30 407.85,555.27 405.87,555.16 404.38,554.99 403.18,554.77 402.21,554.48 401.44,554.15 400.85,553.77 400.43,553.37 400.18,552.94 400.10,552.50 400.18,552.06 400.43,551.63 400.85,551.23 401.44,550.85 402.21,550.52 403.18,550.23 404.38,550.01 405.87,549.84 407.85,549.73 412.15,549.70 416.45,549.73 418.43,549.84 419.92,550.01 421.12,550.23 422.09,550.52 422.86,550.85 423.45,551.23 423.87,551.63 424.12,552.06" fill="#0a0a0a" opacity="1" filter="url(#blur1)"/>
<polygon points="445.90,553.50 445.85,553.69 445.68,553.87 445.41,554.04 445.02,554.21 444.52,554.35 443.88,554.47 443.09,554.57 442.11,554.64 440.82,554.69 438.00,554.70 435.18,554.69 433.89,554.64 432.91,554.57 432.12,554.47 431.48,554.35 430.98,554.21 430.59,554.04 430.32,553.87 430.15,553.69 430.10,553.50 430.15,553.31 430.32,553.13 430.59,552.96 430.98,552.79 431.48,552.65 432.12,552.53 432.91,552.43 433.89,552.36 435.18,552.31 438.00,552.30 440.82,552.31 442.11,552.36 443.09,552.43 443.88,552.53 444.52,552.65 445.02,552.79 445.41,552.96 445.68,553.13 445.85,553.31" fill="#9a9a9a" opacity="0.3" filter="url(#blur2)"/>
<polygon points="479.40,553.80 479.31,554.25 479.04,554.70 478.58,555.12 477.94,555.50 477.10,555.85 476.04,556.15 474.73,556.38 473.10,556.56 470.94,556.66 466.25,556.70 461.56,556.66 459.40,556.56 457.77,556.38 456.46,556.15 455.40,555.85 454.56,555.50 453.92,555.12 453.46,554.70 453.19,554.25 453.10,553.80 453.19,553.35 453.46,552.90 453.92,552.48 454.56,552.10 455.40,551.75 456.46,551.45 457.77,551.22 459.40,551.04 461.56,550.94 466.25,550.90 470.94,550.94 473.10,551.04 474.73,551.22 476.04,551.45 477.10,551.75 477.94,552.10 478.58,552.48 479.04,552.90 479.31,553.35" fill="#0a0a0a" opacity="1" filter="url(#blur1)"/>
<polygon points="344.90,574.50 344.84,574.69 344.66,574.87 344.35,575.04 343.91,575.21 343.34,575.35 342.62,575.47 341.74,575.57 340.63,575.64 339.18,575.69 336.00,575.70 332.82,575.69 331.37,575.64 330.26,575.57 329.38,575.47 328.66,575.35 328.09,575.21 327.65,575.04 327.34,574.87 327.16,574.69 327.10,574.50 327.16,574.31 327.34,574.13 327.65,573.96 328.09,573.79 328.66,573.65 329.38,573.53 330.26,573.43 331.37,573.36 332.82,573.31 336.00,573.30 339.18,573.31 340.63,573.36 341.74,573.43 342.62,573.53 343.34,573.65 343.91,573.79 344.35,573.96 344.66,574.13 344.84,574.31" fill="#aaaaaa" opacity="0.22" filter="url(#blur2)"/>
<polygon points="371.90,574.50 371.84,574.69 371.64,574.87 371.32,575.04 370.86,575.21 370.25,575.35 369.50,575.47 368.56,575.57 367.40,575.64 365.85,575.69 362.50,575.70 359.15,575.69 357.60,575.64 356.44,575.57 355.50,575.47 354.75,575.35 354.14,575.21 353.68,575.04 353.36,574.87 353.16,574.69 353.10,574.50 353.16,574.31 353.36,574.13 353.68,573.96 354.14,573.79 354.75,573.65 355.50,573.53 356.44,573.43 357.60,573.36 359.15,573.31 362.50,573.30 365.85,573.31 367.40,573.36 368.56,573.43 369.50,573.53 370.25,573.65 370.86,573.79 371.32,573.96 371.64,574.13 371.84,574.31" fill="#aaaaaa" opacity="0.22" filter="url(#blur2)"/>
<polygon points="423.70,574.50 423.62,574.69 423.39,574.87 422.99,575.04 422.43,575.21 421.70,575.35 420.79,575.47 419.65,575.57 418.24,575.64 416.37,575.69 412.30,575.70 408.23,575.69 406.36,575.64 404.95,575.57 403.81,575.47 402.90,575.35 402.17,575.21 401.61,575.04 401.21,574.87 400.98,574.69 400.90,574.50 400.98,574.31 401.21,574.13 401.61,573.96 402.17,573.79 402.90,573.65 403.81,573.53 404.95,573.43 406.36,573.36 408.23,573.31 412.30,573.30 416.37,573.31 418.24,573.36 419.65,573.43 420.79,573.53 421.70,573.65 422.43,573.79 422.99,573.96 423.39,574.13 423.62,574.31" fill="#2a2a2a" opacity="1" filter="url(#blur1)"/>
<polygon points="451.20,574.50 451.13,574.80 450.90,575.09 450.53,575.36 450.00,575.62 449.31,575.84 448.44,576.04 447.36,576.19 446.02,576.31 444.25,576.38 440.40,576.40 436.55,576.38 434.78,576.31 433.44,576.19 432.36,576.04 431.49,575.84 430.80,575.62 430.27,575.36 429.90,575.09 429.67,574.80 429.60,574.50 429.67,574.20 429.90,573.91 430.27,573.64 430.80,573.38 431.49,573.16 432.36,572.96 433.44,572.81 434.78,572.69 436.55,572.62 440.40,572.60 444.25,572.62 446.02,572.69 447.36,572.81 448.44,572.96 449.31,573.16 450.00,573.38 450.53,573.64 450.90,573.91 451.13,574.20" fill="#0a0a0a" opacity="1" filter="url(#blur1)"/>
<polygon points="478.70,574.80 478.62,575.07 478.37,575.33 477.95,575.57 477.36,575.80 476.59,576.00 475.62,576.18 474.42,576.31 472.93,576.42 470.95,576.48 466.65,576.50 462.35,576.48 460.37,576.42 458.88,576.31 457.68,576.18 456.71,576.00 455.94,575.80 455.35,575.57 454.93,575.33 454.68,575.07 454.60,574.80 454.68,574.53 454.93,574.27 455.35,574.03 455.94,573.80 456.71,573.60 457.68,573.42 458.88,573.29 460.37,573.18 462.35,573.12 466.65,573.10 470.95,573.12 472.93,573.18 474.42,573.29 475.62,573.42 476.59,573.60 477.36,573.80 477.95,574.03 478.37,574.27 478.62,574.53" fill="#0a0a0a" opacity="1" filter="url(#blur1)"/>
<text x="493.2" y="486.3" font-size="8">Bcl-X<tspan font-size="5.6" dy="2.0" stroke-width="0.28">L</tspan></text>
<text x="493.2" y="508.3" font-size="8" text-anchor="start" font-weight="normal" fill="#000" >Mcl-1</text>
<text x="493.2" y="531.8" font-size="8" text-anchor="start" font-weight="normal" fill="#000" >Bcl-2</text>
<text x="493.2" y="554.3" font-size="8">Bim<tspan font-size="5.6" dy="2.0" stroke-width="0.28">EL</tspan></text>
<text x="493.2" y="576.3" font-size="8" text-anchor="start" font-weight="normal" fill="#000" >ZAP-70</text>
<text x="238.5" y="590.8" font-size="8.2" text-anchor="start" font-weight="normal" fill="#000" >DSP30</text>
<text x="238.2" y="604.3" font-size="8.2" text-anchor="start" font-weight="normal" fill="#000" >P505-15</text>
<line x1="307.3" y1="588.8" x2="310.3" y2="588.8" stroke="#000" stroke-width="1.4" />
<line x1="333.5" y1="588.3" x2="338.1" y2="588.3" stroke="#000" stroke-width="1.3" />
<line x1="335.8" y1="586.0" x2="335.8" y2="590.5999999999999" stroke="#000" stroke-width="1.3" />
<line x1="362.2" y1="588.3" x2="366.8" y2="588.3" stroke="#000" stroke-width="1.3" />
<line x1="364.5" y1="586.0" x2="364.5" y2="590.5999999999999" stroke="#000" stroke-width="1.3" />
<line x1="409.8" y1="588.8" x2="412.8" y2="588.8" stroke="#000" stroke-width="1.4" />
<line x1="435.2" y1="588.3" x2="439.8" y2="588.3" stroke="#000" stroke-width="1.3" />
<line x1="437.5" y1="586.0" x2="437.5" y2="590.5999999999999" stroke="#000" stroke-width="1.3" />
<line x1="464.0" y1="588.3" x2="468.6" y2="588.3" stroke="#000" stroke-width="1.3" />
<line x1="466.3" y1="586.0" x2="466.3" y2="590.5999999999999" stroke="#000" stroke-width="1.3" />
<line x1="308.7" y1="601.8" x2="311.7" y2="601.8" stroke="#000" stroke-width="1.4" />
<line x1="335.7" y1="601.8" x2="338.7" y2="601.8" stroke="#000" stroke-width="1.4" />
<line x1="363.59999999999997" y1="601.3" x2="368.2" y2="601.3" stroke="#000" stroke-width="1.3" />
<line x1="365.9" y1="599.0" x2="365.9" y2="603.5999999999999" stroke="#000" stroke-width="1.3" />
<line x1="411.2" y1="601.8" x2="414.2" y2="601.8" stroke="#000" stroke-width="1.4" />
<line x1="437.4" y1="601.8" x2="440.4" y2="601.8" stroke="#000" stroke-width="1.4" />
<line x1="465.4" y1="601.3" x2="470.0" y2="601.3" stroke="#000" stroke-width="1.3" />
<line x1="467.7" y1="599.0" x2="467.7" y2="603.5999999999999" stroke="#000" stroke-width="1.3" />
</svg>
</body></html>
